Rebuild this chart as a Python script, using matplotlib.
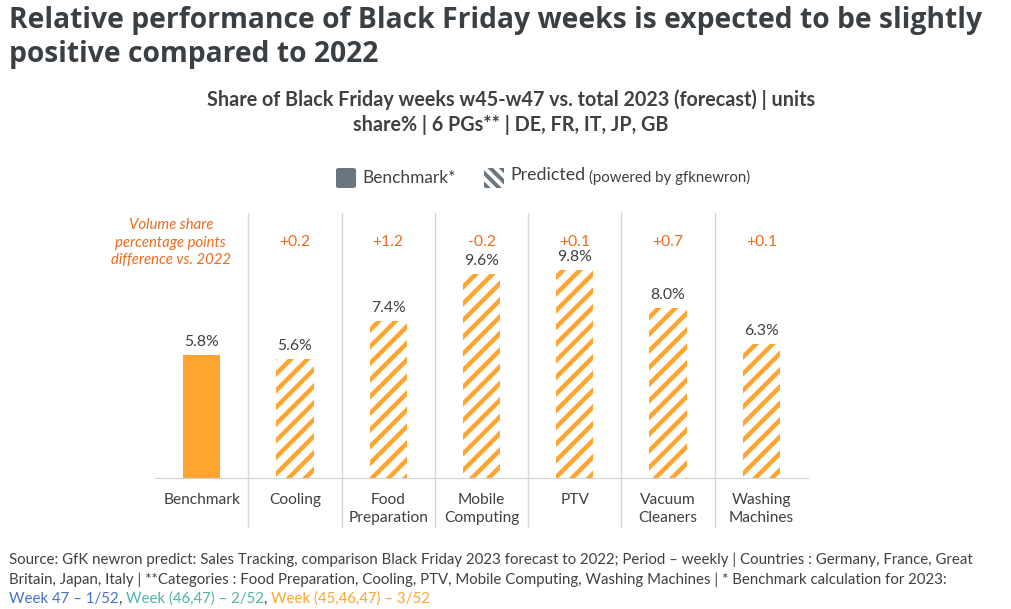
import matplotlib
matplotlib.use("Agg")
import matplotlib.pyplot as plt
from matplotlib.patches import FancyBboxPatch, Rectangle

plt.rcParams['font.family'] = ['Lato', 'DejaVu Sans']
plt.rcParams['hatch.linewidth'] = 3.2

# datos
categorias = ["Benchmark", "Cooling", "Food\nPreparation", "Mobile\nComputing",
              "PTV", "Vacuum\nCleaners", "Washing\nMachines"]
valores = [5.8, 5.6, 7.4, 9.6, 9.8, 8.0, 6.3]
diferencias = ["", "+0.2", "+1.2", "-0.2", "+0.1", "+0.7", "+0.1"]

naranja = "#FFA52F"
rojo = "#EE6A1C"
gris = "#404040"

fig = plt.figure(figsize=(10.11, 6.09), dpi=100)
W, H = 1011, 609

def fx(px):
    return px / W

def fy(py):
    return 1 - py / H

# ejes: base en y=478px, tope en 213px, x de 155 a 808
ax = fig.add_axes([fx(155), fy(478), fx(808 - 155), (478 - 213) / H])
x = list(range(len(categorias)))
for i, v in enumerate(valores):
    if i == 0:
        ax.bar(i, v, width=0.4, color=naranja, linewidth=0)
    else:
        ax.bar(i, v, width=0.4, facecolor="white", edgecolor=naranja,
               hatch="//", linewidth=0)
    ax.text(i, v + 0.3, "%0.1f%%" % v, ha="center", va="bottom",
            fontsize=11.3, color=gris)
    if diferencias[i]:
        ax.text(i, 11.15, diferencias[i], ha="center", va="center",
                fontsize=11.3, color=rojo)

ax.set_xlim(-0.5, len(categorias) - 0.5)
ax.set_ylim(0, 12.5)
for s in ["top", "right", "left"]:
    ax.spines[s].set_visible(False)
ax.spines["bottom"].set_color("#d0d3d6")
ax.set_yticks([])
ax.set_xticks(x)
ax.set_xticklabels(categorias, fontsize=11.2, color=gris, linespacing=1.3)
ax.tick_params(axis="x", length=0, pad=11)

# separadores verticales
for i in range(len(categorias) - 1):
    ax.axvline(i + 0.5, ymin=-0.185, ymax=1, color="#d5d8db", linewidth=1,
               clip_on=False)

ax.text(-0.33, 11.1, "Volume share\npercentage points\ndifference vs. 2022",
        ha="center", va="center", fontsize=10.7, color=rojo, style="italic",
        linespacing=1.3)

# titulo
fig.text(fx(9), fy(6), "Relative performance of Black Friday weeks is expected to be slightly\npositive compared to 2022",
         ha="left", va="top", fontsize=20.3, fontweight="bold", color="#3a3f44",
         family=["Open Sans", "DejaVu Sans"], linespacing=1.22)

fig.text(fx(511), fy(112), "Share of Black Friday weeks w45-w47 vs. total 2023 (forecast) | units\nshare% | 6 PGs** | DE, FR, IT, JP, GB",
         ha="center", va="center", fontsize=14.2, fontweight="bold", color=gris,
         linespacing=1.3)

# leyenda
fig.patches.append(FancyBboxPatch((fx(336), fy(188)), fx(20), 20 / H,
                                  boxstyle="round,pad=0,rounding_size=0.003",
                                  transform=fig.transFigure, color="#6b757d",
                                  linewidth=0))
fig.text(fx(362), fy(178), "Benchmark*", ha="left", va="center",
         fontsize=12.4, color=gris)
plt.rcParams['hatch.linewidth'] = 2.8
fig.patches.append(Rectangle((fx(484), fy(188)), fx(20), 20 / H,
                             transform=fig.transFigure, facecolor="white",
                             edgecolor="#6b757d", hatch="\\\\\\", linewidth=0))
fig.text(fx(510), fy(175), "Predicted", ha="left", va="center",
         fontsize=12.8, color=gris)
fig.text(fx(589), fy(177), "(powered by gfknewron)", ha="left", va="center",
         fontsize=10.8, color=gris)

# nota al pie
fig.text(fx(9), fy(560), "Source: GfK newron predict: Sales Tracking, comparison Black Friday 2023 forecast to 2022; Period \u2013 weekly | Countries : Germany, France, Great",
         ha="left", va="center", fontsize=10.85, color=gris)
fig.text(fx(9), fy(580), "Britain, Japan, Italy | **Categories : Food Preparation, Cooling, PTV, Mobile Computing, Washing Machines | * Benchmark calculation for 2023:",
         ha="left", va="center", fontsize=10.85, color=gris)

partes = [("Week 47 \u2013 1/52", "#4472C4"), (", ", gris),
          ("Week (46,47) \u2013 2/52", "#4DB6A6"), (", ", gris),
          ("Week (45,46,47) \u2013 3/52", naranja)]
fig.canvas.draw()
r = fig.canvas.get_renderer()
xpos = fx(9)
for txt, col in partes:
    t = fig.text(xpos, fy(599), txt, ha="left", va="center", fontsize=10.85, color=col)
    bb = t.get_window_extent(renderer=r)
    xpos += bb.width / W

fig.savefig("out.png", dpi=100)
